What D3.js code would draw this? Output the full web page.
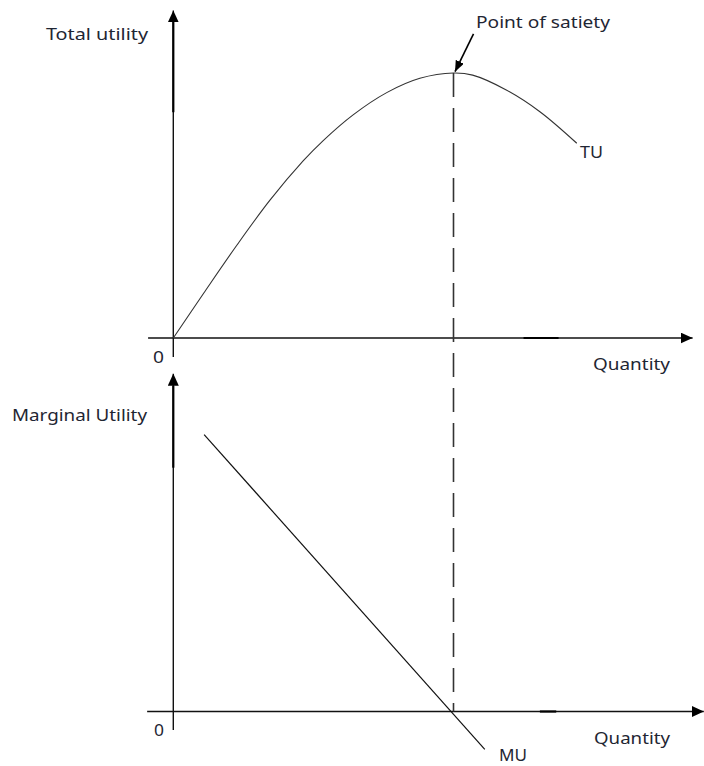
<!DOCTYPE html>
<html>
<head>
<meta charset="utf-8">
<script src="https://cdn.jsdelivr.net/npm/d3@7"></script>
<style>
  html, body { margin: 0; padding: 0; background: #fff; }
  svg { display: block; }
  text { font-family: "Noto Sans", "Liberation Sans", sans-serif; fill: #1f2633; }
</style>
</head>
<body>
<svg id="chart" width="704" height="766"></svg>
<script>
// ---- data ----
const quantity       = [0, 0.65, 1.36, 2.07, 2.78, 3.21, 3.85, 4.57, 5.28, 6, 6.41, 7.13, 7.85, 8.64];
const totalUtility   = [0, 1.69, 3.5, 5.2, 6.68, 7.45, 8.42, 9.26, 9.8, 10, 9.92, 9.36, 8.54, 7.35];
const muQuantity     = [0.66, 6.67];
const marginalUtility = [10.45, -1.43];
const satietyQuantity = 6;
const topLabels    = ["Total utility", "Quantity", "0", "TU", "Point of satiety"];
const bottomLabels = ["Marginal Utility", "Quantity", "0", "MU"];

// ---- layout ----
const svg = d3.select("#chart");
const x = d3.scaleLinear().domain([0, 6]).range([173.3, 453.5]);
const yTop = d3.scaleLinear().domain([0, 10]).range([338, 73]);
const yBot = d3.scaleLinear().domain([0, 10]).range([711.5, 446.5]);

const defs = svg.append("defs");
defs.append("marker").attr("id", "axisArrow")
  .attr("viewBox", "0 0 12 11").attr("refX", 12).attr("refY", 5.5)
  .attr("markerWidth", 12).attr("markerHeight", 11)
  .attr("markerUnits", "userSpaceOnUse").attr("orient", "auto")
  .append("path").attr("d", "M0,0L12,5.5L0,11Z").attr("fill", "#000");
defs.append("marker").attr("id", "smallArrow")
  .attr("viewBox", "0 0 11 9").attr("refX", 11).attr("refY", 4.5)
  .attr("markerWidth", 11).attr("markerHeight", 9)
  .attr("markerUnits", "userSpaceOnUse").attr("orient", "auto")
  .append("path").attr("d", "M0,0L11,4.5L0,9Z").attr("fill", "#000");

function axisLine(x1, y1, x2, y2, arrow) {
  const l = svg.append("line")
    .attr("x1", x1).attr("y1", y1).attr("x2", x2).attr("y2", y2)
    .attr("stroke", "#111").attr("stroke-width", 1.4);
  if (arrow) l.attr("marker-end", "url(#axisArrow)");
  return l;
}
function boldSeg(x1, y1, x2, y2) {
  svg.append("line")
    .attr("x1", x1).attr("y1", y1).attr("x2", x2).attr("y2", y2)
    .attr("stroke", "#000").attr("stroke-width", 2.2);
}

// ---- top panel axes ----
axisLine(x(0), yTop(-0.72), x(0), yTop(12.36), true);
axisLine(x(-0.54), yTop(0), x(11.12), yTop(0), true);
boldSeg(x(0), yTop(12.2), x(0), yTop(8.52));
boldSeg(x(7.5), yTop(0), x(8.25), yTop(0));

// ---- bottom panel axes ----
axisLine(x(0), yBot(-0.7), x(0), yBot(12.75), true);
axisLine(x(-0.56), yBot(0), x(11.36), yBot(0), true);
boldSeg(x(0), yBot(12.3), x(0), yBot(9.2));
boldSeg(x(7.85), yBot(0), x(8.2), yBot(0));

// ---- dashed satiety line ----
svg.append("line")
  .attr("x1", x(satietyQuantity)).attr("y1", yTop(10))
  .attr("x2", x(satietyQuantity)).attr("y2", yBot(0))
  .attr("stroke", "#333").attr("stroke-width", 1.6)
  .attr("stroke-dasharray", "24,11");

// ---- TU curve ----
const tuLine = d3.line()
  .x((d, i) => x(quantity[i]))
  .y(d => yTop(d))
  .curve(d3.curveCatmullRom.alpha(0.5));
svg.append("path")
  .attr("d", tuLine(totalUtility))
  .attr("fill", "none").attr("stroke", "#333").attr("stroke-width", 1.1);

// ---- MU line ----
const muLine = d3.line()
  .x((d, i) => x(muQuantity[i]))
  .y(d => yBot(d));
svg.append("path")
  .attr("d", muLine(marginalUtility))
  .attr("fill", "none").attr("stroke", "#111").attr("stroke-width", 1.2);

// ---- point of satiety arrow ----
svg.append("line")
  .attr("x1", x(satietyQuantity) + 20).attr("y1", yTop(11.48))
  .attr("x2", x(satietyQuantity) + 1.5).attr("y2", yTop(10.05))
  .attr("stroke", "#000").attr("stroke-width", 1.6)
  .attr("marker-end", "url(#smallArrow)");

// ---- text ----
function label(t, px, py, w, fs) {
  svg.append("text").attr("x", px).attr("y", py)
    .attr("font-size", fs || 17)
    .attr("textLength", w).attr("lengthAdjust", "spacingAndGlyphs")
    .text(t);
}
label(topLabels[0], 46, 40, 102);
label(topLabels[1], 593, 370, 77);
label(topLabels[2], 153, 363, 11);
label(topLabels[3], 580, 158, 23);
label(topLabels[4], 476, 27.5, 134);

label(bottomLabels[0], 12, 421, 135);
label(bottomLabels[1], 594, 744, 76);
label(bottomLabels[2], 154, 736, 10);
label(bottomLabels[3], 499, 761, 28, 16);
</script>
</body>
</html>
